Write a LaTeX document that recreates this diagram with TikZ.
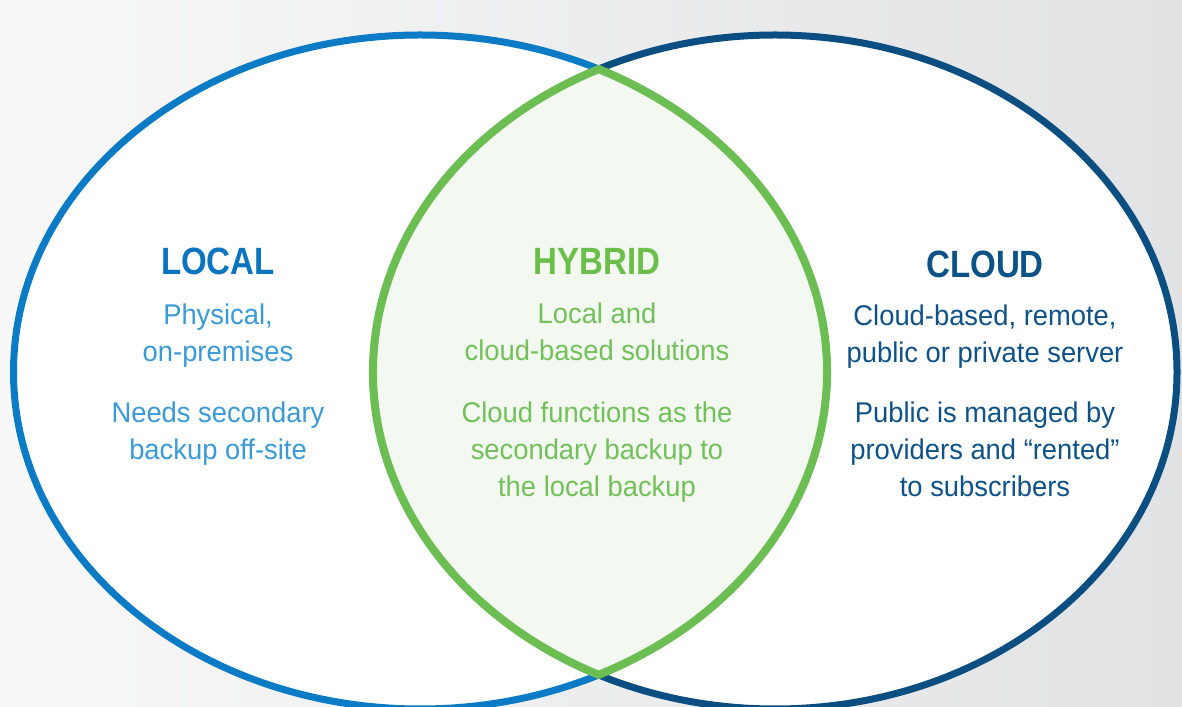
\documentclass[tikz,border=0pt]{standalone}
\usepackage{fontspec}
\setmainfont{Liberation Sans}
\newfontfamily\bodyfont[FakeStretch=0.96]{Liberation Sans}
\newfontfamily\titlefont[FakeStretch=0.87]{Liberation Sans}
\definecolor{bgL}{HTML}{F8F8F8}
\definecolor{bgR}{HTML}{E1E2E4}
\definecolor{localring}{HTML}{0A7BC4}
\definecolor{cloudring}{HTML}{0B4F82}
\definecolor{lensring}{HTML}{6DBE52}
\definecolor{lensfill}{HTML}{F3F9F1}
\definecolor{localtitle}{HTML}{0A74BE}
\definecolor{localtext}{HTML}{3A9AD7}
\definecolor{cloudtitle}{HTML}{0B5286}
\definecolor{cloudtext}{HTML}{0E5287}
\definecolor{hybtitle}{HTML}{6ABF4B}
\definecolor{hybtext}{HTML}{72C05A}
\tikzset{
  ttl/.style={font=\titlefont\bfseries\fontsize{38}{44}\selectfont, inner sep=0pt, anchor=base},
  bodytxt/.style={font=\bodyfont\fontsize{28.5}{37}\selectfont, align=center, inner sep=0pt, anchor=base},
  ring/.style={line width=7pt}
}
\begin{document}
\begin{tikzpicture}[x=1pt,y=1pt]
\useasboundingbox (0,0) rectangle (1182,706);
\shade[left color=bgL, right color=bgR] (0,0) rectangle (1182,706);
% ellipse fills
\fill[white] (420.25,334) ellipse [x radius=406.75, y radius=337];
\fill[white] (775,334) ellipse [x radius=402, y radius=337];
% lens fill
\coordinate (lenstop) at (598.67,636.86);
\fill[lensfill] (lenstop) arc[start angle=116.02, end angle=243.98, x radius=402, y radius=337]
  arc[start angle=-63.98, end angle=63.98, x radius=406.75, y radius=337] -- cycle;
% rings
\draw[ring, cloudring] (775,334) ellipse [x radius=402, y radius=337];
\draw[ring, localring] (420.25,334) ellipse [x radius=406.75, y radius=337];
% lens ring
\draw[lensring, line width=8pt, line join=miter] (lenstop) arc[start angle=116.02, end angle=243.98, x radius=402, y radius=337]
  arc[start angle=-63.98, end angle=63.98, x radius=406.75, y radius=337] -- cycle;
% texts (multi-line nodes: base anchor = last line baseline)
\node[ttl, text=localtitle] (localT) at (218,431) {LOCAL};
\node[bodytxt, text=localtext] (localA) at (218,344) {Physical,\\on-premises};
\node[bodytxt, text=localtext] (localB) at (218,246) {Needs secondary\\backup off-site};

\node[ttl, text=hybtitle] (hybT) at (597,431) {HYBRID};
\node[bodytxt, text=hybtext] (hybA) at (597,345) {Local and\\cloud-based solutions};
\node[bodytxt, text=hybtext] (hybB) at (597,209) {Cloud functions as the\\secondary backup to\\the local backup};

\node[ttl, text=cloudtitle] (cloudT) at (985,428) {CLOUD};
\node[bodytxt, text=cloudtext] (cloudA) at (985,343) {Cloud-based, remote,\\public or private server};
\node[bodytxt, text=cloudtext] (cloudB) at (985,209) {Public is managed by\\providers and “rented”\\to subscribers};
\end{tikzpicture}
\end{document}
